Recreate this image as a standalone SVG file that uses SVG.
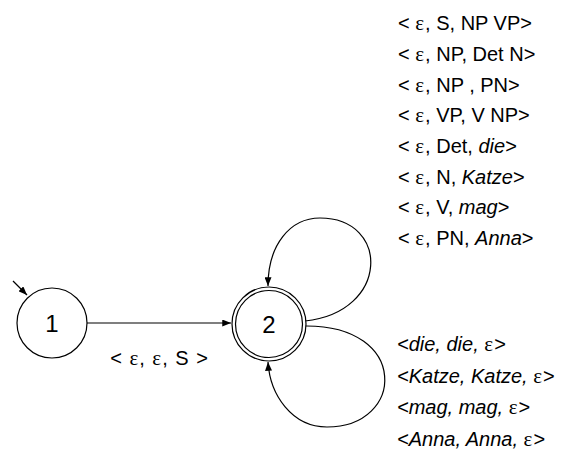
<svg xmlns="http://www.w3.org/2000/svg" width="563" height="450" viewBox="0 0 563 450">
<style>
.t{font-family:"Liberation Sans",Arial,sans-serif;font-size:20px;fill:#000}
.n{font-family:"Liberation Sans",Arial,sans-serif;font-size:24px;fill:#000;text-anchor:middle}
.i{font-style:italic}
.g{font-family:"Liberation Serif","Times New Roman",serif;font-style:normal;font-size:21px;letter-spacing:1px}
.c{fill:#fff;stroke:#000;stroke-width:1.2}
.e{fill:none;stroke:#000;stroke-width:1.2}
</style>
<defs>
<marker id="ah" viewBox="0 0 10 8" refX="10" refY="4" markerWidth="9" markerHeight="7" markerUnits="userSpaceOnUse" orient="auto">
<path d="M0,0 L10,4 L0,8 z" fill="#000"/>
</marker>
</defs>
<rect width="563" height="450" fill="#fff"/>
<g id="connectors">
<path class="e" d="M13,281 L27,295" marker-end="url(#ah)"/>
<path class="e" d="M87,323 L231,323" marker-end="url(#ah)"/>
<path class="e" d="M305,321 C390,312 390,218 320,218 C290,218 268,245 268,286" marker-end="url(#ah)"/>
<path class="e" d="M305,326 C410,325 405,427 327,427 C292,427 270,395 268,362" marker-end="url(#ah)"/>
</g>
<g id="node1">
<circle class="c" cx="52" cy="323" r="35"/>
<text class="n" x="52" y="332">1</text>
</g>
<g id="node2">
<circle class="c" cx="269" cy="324" r="37"/>
<circle class="c" cx="269" cy="324" r="33.5"/>
<text class="n" x="269" y="333">2</text>
</g>
<g id="labels">
<text class="t" x="159" y="365" text-anchor="middle" word-spacing="2">&lt; <tspan class="g">ε</tspan>, <tspan class="g">ε</tspan>, S &gt;</text>
<text class="t" x="398" y="30">&lt; <tspan class="g">ε</tspan>, S, NP VP&gt;</text>
<text class="t" x="398" y="61">&lt; <tspan class="g">ε</tspan>, NP, Det N&gt;</text>
<text class="t" x="398" y="92">&lt; <tspan class="g">ε</tspan>, NP , PN&gt;</text>
<text class="t" x="398" y="122">&lt; <tspan class="g">ε</tspan>, VP, V NP&gt;</text>
<text class="t" x="398" y="153">&lt; <tspan class="g">ε</tspan>, Det, <tspan class="i">die</tspan>&gt;</text>
<text class="t" x="398" y="184">&lt; <tspan class="g">ε</tspan>, N, <tspan class="i">Katze</tspan>&gt;</text>
<text class="t" x="398" y="214">&lt; <tspan class="g">ε</tspan>, V, <tspan class="i">mag</tspan>&gt;</text>
<text class="t" x="398" y="245">&lt; <tspan class="g">ε</tspan>, PN, <tspan class="i">Anna</tspan>&gt;</text>
<text class="t" x="397" y="351"><tspan class="i">&lt;die, die, </tspan><tspan class="g">ε</tspan>&gt;</text>
<text class="t" x="397" y="383"><tspan class="i">&lt;Katze, Katze, </tspan><tspan class="g">ε</tspan>&gt;</text>
<text class="t" x="397" y="414"><tspan class="i">&lt;mag, mag, </tspan><tspan class="g">ε</tspan>&gt;</text>
<text class="t" x="397" y="446"><tspan class="i">&lt;Anna, Anna, </tspan><tspan class="g">ε</tspan>&gt;</text>
</g>
</svg>
